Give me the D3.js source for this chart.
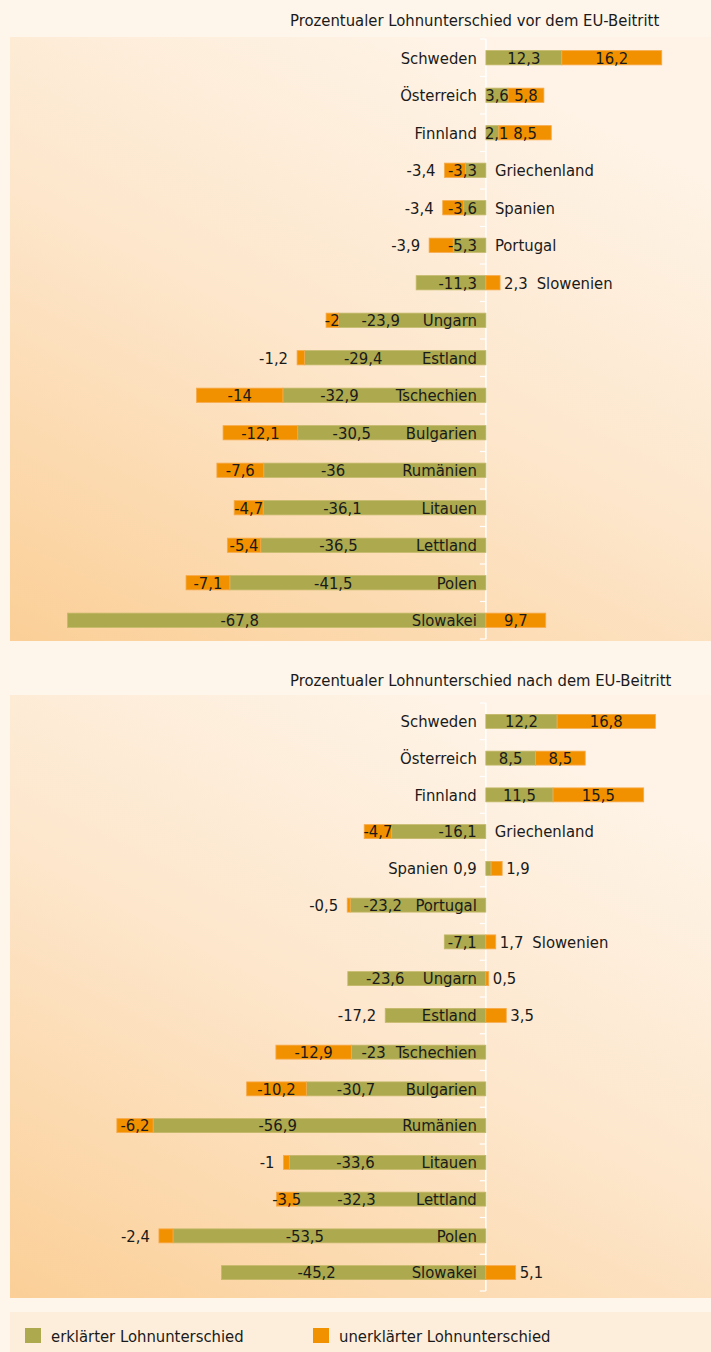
<!doctype html>
<html lang="de">
<head>
<meta charset="utf-8">
<title>Lohnunterschied vor und nach dem EU-Beitritt</title>
<style>
    body { margin: 0; background: #fef5eb; }
    svg text { font-family: 'Liberation Sans Narrow', 'DejaVu Sans Condensed', sans-serif; fill: #1a1a1a; }
</style>
</head>
<body>
<svg id="chart" width="711" height="1352"></svg>

<script src="https://d3js.org/d3.v7.min.js"></script>
<script>
    // categories (same order in both panels)
    const countries = ["Schweden", "Österreich", "Finnland", "Griechenland", "Spanien", "Portugal", "Slowenien",
        "Ungarn", "Estland", "Tschechien", "Bulgarien", "Rumänien", "Litauen", "Lettland", "Polen", "Slowakei"];

    // vor dem EU-Beitritt
    const explainedBefore = [12.3, 3.6, 2.1, -3.3, -3.6, -5.3, -11.3, -23.9, -29.4, -32.9, -30.5, -36, -36.1, -36.5, -41.5, -67.8];
    const unexplainedBefore = [16.2, 5.8, 8.5, -3.4, -3.4, -3.9, 2.3, -2, -1.2, -14, -12.1, -7.6, -4.7, -5.4, -7.1, 9.7];

    // nach dem EU-Beitritt
    const explainedAfter = [12.2, 8.5, 11.5, -16.1, 0.9, -23.2, -7.1, -23.6, -17.2, -23, -30.7, -56.9, -33.6, -32.3, -53.5, -45.2];
    const unexplainedAfter = [16.8, 8.5, 15.5, -4.7, 1.9, -0.5, 1.7, 0.5, 3.5, -12.9, -10.2, -6.2, -1, -3.5, -2.4, 5.1];

    const titles = ["Prozentualer Lohnunterschied vor dem EU-Beitritt", "Prozentualer Lohnunterschied nach dem EU-Beitritt"];
    const legendLabels = ["erklärter Lohnunterschied", "unerklärter Lohnunterschied"];

    const green = "#aca94f", orange = "#f29100";
    const fontSize = 16.5;
    const svg = d3.select("#chart");

    // background gradient for the panels
    const grad = svg.append("defs").append("linearGradient")
        .attr("id", "panelGrad")
        .attr("x1", 0).attr("y1", 1).attr("x2", 0.6).attr("y2", 0);
    grad.append("stop").attr("offset", 0).attr("stop-color", "#fbcf97");
    grad.append("stop").attr("offset", 0.55).attr("stop-color", "#fde6cb");
    grad.append("stop").attr("offset", 1).attr("stop-color", "#fef3e6");

    // helper to measure text
    const measurer = svg.append("text").attr("font-size", fontSize).style("visibility", "hidden");
    function tw(s) {
        measurer.text(s);
        return measurer.node().getComputedTextLength();
    }
    const fmt = v => String(v).replace(".", ",");

    function drawPanel(cfg) {
        const g = svg.append("g");
        g.append("rect")
            .attr("x", 10).attr("y", cfg.top).attr("width", 701).attr("height", cfg.height)
            .attr("fill", "url(#panelGrad)");
        g.append("text")
            .attr("x", 290).attr("y", cfg.titleY)
            .attr("font-size", fontSize)
            .text(cfg.title);

        const x = d3.scaleLinear().domain(cfg.domain).range([cfg.left, 708]);
        const y = d3.scaleBand().domain(countries).range(cfg.yRange)
            .paddingInner(0.62).paddingOuter(0.31);
        const x0 = x(0);
        const bw = y.bandwidth();
        const gap = 9;

        // axis line with ticks between categories
        g.append("line")
            .attr("x1", x0).attr("x2", x0)
            .attr("y1", cfg.yRange[0]).attr("y2", cfg.yRange[1])
            .attr("stroke", "#fff").attr("stroke-width", 1.5);
        g.selectAll(".tick")
            .data(d3.range(countries.length + 1))
            .join("line")
            .attr("x1", x0 - 6).attr("x2", x0)
            .attr("y1", i => cfg.yRange[0] + i * y.step())
            .attr("y2", i => cfg.yRange[0] + i * y.step())
            .attr("stroke", "#fff").attr("stroke-width", 1.2);

        const rows = countries.map((c, i) => {
            const e = cfg.explained[i], u = cfg.unexplained[i];
            const uStart = (Math.sign(u) === Math.sign(e)) ? e : 0;
            return {c, e, u, uStart, uEnd: uStart + u};
        });

        // bars
        g.selectAll(".bar-e")
            .data(rows)
            .join("rect")
            .attr("x", d => x(Math.min(0, d.e)))
            .attr("width", d => Math.abs(x(d.e) - x0))
            .attr("y", d => y(d.c))
            .attr("height", bw)
            .attr("fill", green)
            .attr("stroke", "#c4b868").attr("stroke-width", 0.8);
        g.selectAll(".bar-u")
            .data(rows)
            .join("rect")
            .attr("x", d => x(Math.min(d.uStart, d.uEnd)))
            .attr("width", d => Math.abs(x(d.uEnd) - x(d.uStart)))
            .attr("y", d => y(d.c))
            .attr("height", bw)
            .attr("fill", orange)
            .attr("stroke", "#f6a94a").attr("stroke-width", 0.8);

        // labels
        const labels = [];
        rows.forEach(d => {
            const cy = y(d.c) + bw / 2;
            const eT = fmt(d.e), uT = fmt(d.u);
            const eW = tw(eT), uW = tw(uT), cW = tw(d.c);
            let catRight = false, greenBox;
            const add = (text, xPos, anchor) => labels.push({text, x: xPos, y: cy, anchor});

            if (d.e >= 0) {
                const len = x(d.e) - x0;
                if (len >= eW * 0.5) {
                    const cx = Math.max((x0 + x(d.e)) / 2, x0 + eW / 2 - 1);
                    add(eT, cx, "middle");
                    add(d.c, x0 - gap, "end");
                } else {
                    add(eT, x0 - gap, "end");
                    add(d.c, x0 - gap - eW - 5, "end");
                }
            } else {
                const len = x0 - x(d.e);
                if (len >= cW + gap + 18) {
                    add(d.c, x0 - gap, "end");
                    const catLeft = x0 - gap - cW;
                    if (catLeft - x(d.e) >= eW + 16) {
                        const cx = (x(d.e) + catLeft) / 2;
                        add(eT, cx, "middle");
                        greenBox = [cx - eW / 2, cx + eW / 2];
                    } else {
                        const outer = Math.min(x(d.e), x(d.uEnd));
                        add(eT, outer - gap, "end");
                        greenBox = [outer - gap - eW, outer - gap];
                    }
                } else {
                    catRight = true;
                    add(eT, x0 - gap, "end");
                    greenBox = [x0 - gap - eW, x0 - gap];
                }
            }

            let rightEdge = x0;
            if (d.u < 0) {
                const len = x(d.uStart) - x(d.uEnd);
                const mid = (x(d.uStart) + x(d.uEnd)) / 2;
                const collide = greenBox && greenBox[0] < mid + uW / 2 + 1;
                if (len >= uW * 0.6 && !collide) {
                    add(uT, mid, "middle");
                } else {
                    add(uT, x(d.uEnd) - gap, "end");
                }
            } else {
                const len = x(d.uEnd) - x(d.uStart);
                if (len >= uW + 8) {
                    add(uT, (x(d.uStart) + x(d.uEnd)) / 2, "middle");
                    rightEdge = x(d.uEnd);
                } else {
                    add(uT, x(d.uEnd) + 4, "start");
                    rightEdge = x(d.uEnd) + 4 + uW;
                }
            }
            if (catRight) add(d.c, rightEdge + gap, "start");
        });

        g.selectAll(".lbl")
            .data(labels)
            .join("text")
            .attr("x", d => d.x)
            .attr("y", d => d.y)
            .attr("dy", "0.35em")
            .attr("text-anchor", d => d.anchor)
            .attr("font-size", fontSize)
            .text(d => d.text);
    }

    drawPanel({
        title: titles[0], titleY: 26, top: 37, height: 604,
        explained: explainedBefore, unexplained: unexplainedBefore,
        domain: [-70, 36], left: 54, yRange: [39, 639]
    });
    drawPanel({
        title: titles[1], titleY: 686, top: 695, height: 603,
        explained: explainedAfter, unexplained: unexplainedAfter,
        domain: [-70, 38], left: 76.5, yRange: [703, 1291]
    });

    // legend
    const legend = svg.append("g");
    legend.append("rect")
        .attr("x", 10).attr("y", 1312).attr("width", 701).attr("height", 40)
        .attr("fill", "#fdeedc");
    const items = legend.selectAll(".item")
        .data(legendLabels)
        .join("g")
        .attr("transform", (d, i) => `translate(${i === 0 ? 25 : 313},1328)`);
    items.append("rect")
        .attr("width", 16).attr("height", 15)
        .attr("fill", (d, i) => i === 0 ? green : orange);
    items.append("text")
        .attr("x", 26).attr("y", 8).attr("dy", "0.35em")
        .attr("font-size", fontSize)
        .text(d => d);
</script>
</body>
</html>
